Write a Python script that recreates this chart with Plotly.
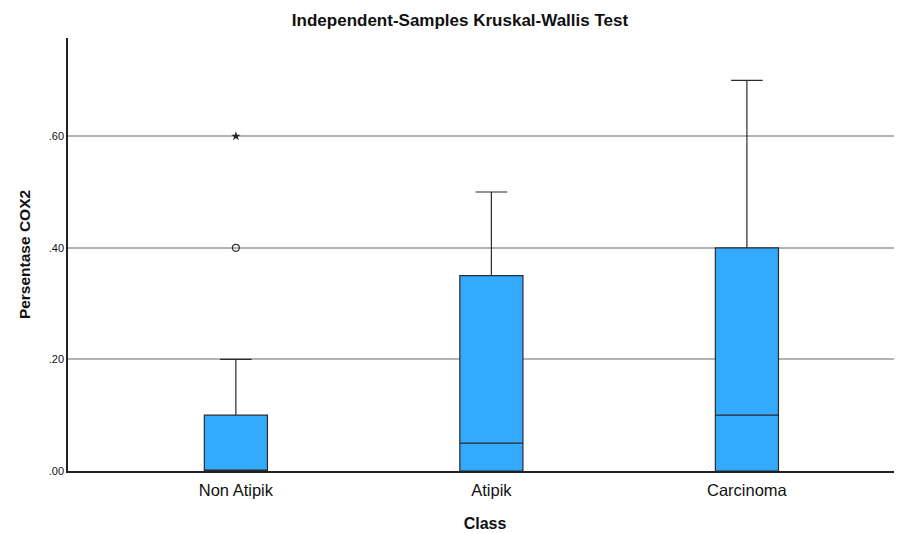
import plotly.graph_objects as go

kelas = ["Non Atipik", "Atipik", "Carcinoma"]
q1 = [0.0, 0.0, 0.0]
median = [0.0, 0.05, 0.10]
q3 = [0.10, 0.35, 0.40]
lower = [0.0, 0.0, 0.0]
upper = [0.20, 0.50, 0.70]

outlier_kelas = ["Non Atipik"]
outlier_circle = [0.40]
outlier_star = [0.60]

y_ticks = [0.0, 0.2, 0.4, 0.6]
y_ticktext = [".00", ".20", ".40", ".60"]

fig = go.Figure()

for i, k in enumerate(kelas):
    fig.add_trace(go.Box(
        x=[k],
        q1=[q1[i]],
        median=[median[i]],
        q3=[q3[i]],
        lowerfence=[lower[i]],
        upperfence=[upper[i]],
        width=0.247,
        whiskerwidth=0.5,
        fillcolor="#33aafe",
        line=dict(color="#2b2b2b", width=1.2),
        boxpoints=False,
        showlegend=False,
        hoverinfo="skip",
    ))

fig.add_trace(go.Scatter(
    x=outlier_kelas, y=outlier_circle, mode="markers",
    marker=dict(symbol="circle-open", size=7, color="#333", line=dict(width=1.3)),
    showlegend=False,
))
fig.add_trace(go.Scatter(
    x=outlier_kelas, y=outlier_star, mode="markers",
    marker=dict(symbol="star", size=7, color="#222"),
    showlegend=False,
))

fig.update_layout(
    width=894, height=526,
    margin=dict(l=60, r=0, t=30, b=63),
    paper_bgcolor="white",
    plot_bgcolor="white",
    font=dict(family="Liberation Sans, Arial, sans-serif", color="#111"),
    title=dict(text="<b>Independent-Samples Kruskal-Wallis Test</b>",
               x=0.5056, xanchor="center", y=0.977, yanchor="middle",
               font=dict(size=17)),
    xaxis=dict(
        type="category",
        categoryorder="array", categoryarray=kelas,
        range=[-0.657, 2.607],
        showline=True, linecolor="#222", linewidth=1.5,
        showgrid=False, ticks="", ticklabelstandoff=3,
        tickfont=dict(size=16.5),
        title=dict(text="<b>Class</b>", font=dict(size=16), standoff=20),
    ),
    yaxis=dict(
        range=[0, 0.776],
        tickvals=y_ticks, ticktext=y_ticktext,
        showline=True, linecolor="#222", linewidth=1.5,
        showgrid=True, gridcolor="#b3b3b3", gridwidth=2,
        zeroline=False, ticks="",
        tickfont=dict(size=11),
        title=dict(text="<b>Persentase COX2</b>", font=dict(size=15.5), standoff=14),
    ),
)

fig.write_html("out.html")
